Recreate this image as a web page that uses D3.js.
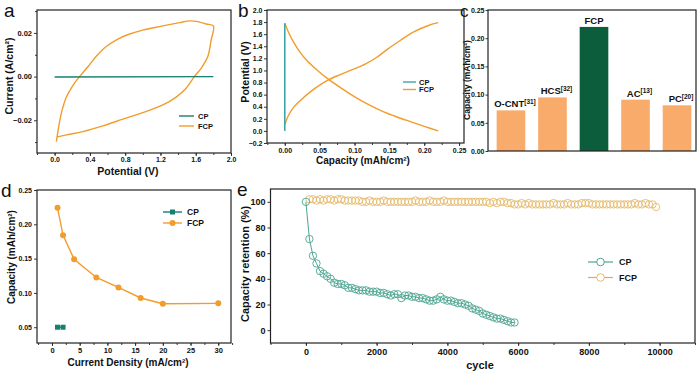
<!doctype html>
<html>
<head>
<meta charset="utf-8">
<title>FCP electrode performance</title>
<script src="https://d3js.org/d3.v7.min.js"></script>
<style>
  body { margin: 0; background: #fff; }
  svg text { font-family: "Liberation Sans", Arial, Helvetica, sans-serif; fill: #111; }
</style>
</head>
<body>
<div id="plot"></div>
<script>
// ---------- data ----------
// (a) CV curves
const cvCpPotential = [0.0, 1.8];
const cvCpCurrent   = [-0.0002, 0.0];
const cvFcpPotential = [0.02, 0.037, 0.075, 0.132, 0.208, 0.283, 0.377, 0.472, 0.585, 0.717, 0.85, 1.0, 1.227, 1.416, 1.529, 1.605, 1.718, 1.8,
                        1.775, 1.737, 1.661, 1.585, 1.491, 1.378, 1.227, 1.0, 0.774, 0.547, 0.32, 0.132, 0.02];
const cvFcpCurrent   = [-0.0298, -0.0252, -0.017, -0.0095, -0.004, 0.0, 0.0045, 0.0093, 0.0138, 0.0172, 0.0195, 0.0213, 0.0232, 0.0247, 0.0255, 0.0253, 0.0241, 0.0232,
                        0.0168, 0.0092, 0.0038, 0.0, -0.0053, -0.0094, -0.013, -0.0165, -0.0195, -0.0226, -0.0252, -0.0267, -0.0277];

// (b) charge / discharge
const gcdCpCapacity = [0.0, 0.0];
const gcdCpPotential = [0.0, 1.78];
const chargeCapacity  = [0.0, 0.005, 0.012, 0.022, 0.037, 0.049, 0.062, 0.077, 0.096, 0.116, 0.131, 0.146, 0.166, 0.185, 0.205, 0.22];
const chargePotential = [0.1, 0.25, 0.38, 0.5, 0.65, 0.75, 0.84, 0.92, 1.01, 1.11, 1.21, 1.34, 1.5, 1.64, 1.74, 1.79];
const dischargeCapacity  = [0.0, 0.005, 0.012, 0.022, 0.032, 0.047, 0.062, 0.082, 0.101, 0.121, 0.141, 0.161, 0.181, 0.2, 0.22];
const dischargePotential = [1.78, 1.64, 1.48, 1.3, 1.16, 1.0, 0.86, 0.7, 0.56, 0.43, 0.32, 0.23, 0.15, 0.075, 0.0];

// (c) comparison bars
const barNames = ["O-CNT", "HCS", "FCP", "AC", "PC"];
const barRefs  = ["[31]", "[32]", "", "[13]", "[20]"];
const barValues = [0.072, 0.095, 0.22, 0.091, 0.081];

// (d) rate capability
const fcpDensity  = [1, 2, 4, 8, 12, 16, 20, 30];
const fcpCapacity = [0.224, 0.184, 0.149, 0.1225, 0.108, 0.0926, 0.0843, 0.0848];
const cpDensity  = [1, 2];
const cpCapacity = [0.05, 0.05];

// (e) cycling, one point every 100 cycles
const cycleStep = 100;
const cpRetention = [100, 71, 58, 52, 46, 44, 42, 40, 37, 36, 36, 35, 33, 33, 32, 31, 31, 31, 30, 30,
                     30, 29, 29, 28, 27, 28, 28, 25, 27, 27, 26, 26, 25, 25, 24, 23, 23, 24, 26, 24,
                     23, 23, 22, 21, 21, 20, 19, 17, 16, 15, 13, 12, 11, 10, 9, 9, 8, 7, 6, 6];
const fcpRetention = [102, 102, 101, 102, 101, 102, 102, 101, 102, 102,
                      101, 101, 101, 101, 101, 100, 100, 101, 100, 100,
                      100, 101, 100, 100, 100, 100, 100, 100, 100, 100,
                      101, 100, 100, 100, 101, 100, 100, 100, 101, 100,
                      100, 100, 100, 100, 100, 100, 100, 100, 100, 100,
                      100, 99, 100, 99, 100, 100, 99, 99, 98, 98,
                      99, 98, 99, 98, 98, 98, 98, 98, 98, 99,
                      98, 98, 98, 99, 98, 98, 98, 99, 99, 99,
                      98, 98, 98, 98, 98, 98, 98, 98, 98, 98,
                      98, 98, 99, 98, 98, 99, 98, 98, 96];

// tick values
const aTicksX = [0, 0.4, 0.8, 1.2, 1.6, 2.0];
const aTicksY = [-0.02, 0, 0.02];
const bTicksX = [0, 0.05, 0.1, 0.15, 0.2, 0.25];
const bTicksY = [-0.2, 0, 0.2, 0.4, 0.6, 0.8, 1.0, 1.2, 1.4, 1.6, 1.8, 2.0];
const cTicksY = [0, 0.05, 0.1, 0.15, 0.2, 0.25];
const dTicksX = [0, 5, 10, 15, 20, 25, 30];
const dTicksY = [0.05, 0.1, 0.15, 0.2, 0.25];
const eTicksX = [0, 2000, 4000, 6000, 8000, 10000];
const eTicksY = [0, 20, 40, 60, 80, 100];

// colours
const orange = "#F39C2B";
const tealDark = "#167F70";
const tealLight = "#3BA7A6";
const barOrange = "#F9AB6C";
const barGreen = "#0C5D3B";
const eCp = "#4DA592";
const eFcp = "#E7BA6C";

// ---------- drawing ----------
const svg = d3.select("#plot").append("svg")
  .attr("width", 700).attr("height", 376)
  .style("background", "#fff");

function box(xs, ys) {
  const [x0, x1] = xs.range(), [y0, y1] = ys.range();
  svg.append("rect")
    .attr("x", Math.min(x0, x1)).attr("y", Math.min(y0, y1))
    .attr("width", Math.abs(x1 - x0)).attr("height", Math.abs(y1 - y0))
    .attr("fill", "none").attr("stroke", "#222").attr("stroke-width", 1.2);
}

function axis(gen, tx, ty, size) {
  const g = svg.append("g").attr("transform", `translate(${tx},${ty})`).call(gen);
  g.select(".domain").remove();
  g.selectAll(".tick line").attr("stroke", "#222").attr("stroke-width", 0.9);
  g.selectAll(".tick text")
    .style("font-size", size + "px").style("font-weight", "bold")
    .attr("fill", "#111");
  return g;
}

function title(x, y, txt, size, rotate) {
  const t = svg.append("text")
    .attr("text-anchor", "middle")
    .style("font-size", size + "px").style("font-weight", "bold")
    .text(txt);
  if (rotate) t.attr("transform", `translate(${x},${y}) rotate(-90)`);
  else t.attr("x", x).attr("y", y);
}

function letter(x, y, txt, size) {
  svg.append("text").attr("x", x).attr("y", y)
    .style("font-size", (size || 19) + "px").text(txt);
}

function pairs(xsArr, ysArr) { return xsArr.map((v, i) => [v, ysArr[i]]); }

// ---- (a) ----
{
  const x = d3.scaleLinear().domain([-0.2, 2.0]).range([37, 231]);
  const y = d3.scaleLinear().domain([-0.035, 0.0305]).range([153, 10]);
  const line = d3.line().x(d => x(d[0])).y(d => y(d[1])).curve(d3.curveCatmullRom.alpha(0.5));

  svg.append("path").datum(pairs(cvFcpPotential, cvFcpCurrent))
    .attr("d", line).attr("fill", "none").attr("stroke", orange).attr("stroke-width", 1.4);
  svg.append("path").datum(pairs(cvCpPotential, cvCpCurrent))
    .attr("d", d3.line().x(d => x(d[0])).y(d => y(d[1])))
    .attr("fill", "none").attr("stroke", tealDark).attr("stroke-width", 1.4);

  axis(d3.axisBottom(x).tickValues(d3.range(-0.2, 2.01, 0.2)).tickSize(2).tickFormat(""), 0, 153, 7);
  axis(d3.axisBottom(x).tickValues(aTicksX).tickSize(3).tickPadding(1).tickFormat(d3.format(".1f")), 0, 153, 7);
  axis(d3.axisLeft(y).tickValues([-0.03, -0.01, 0.01, 0.03]).tickSize(2).tickFormat(""), 37, 0, 7);
  axis(d3.axisLeft(y).tickValues(aTicksY).tickSize(3).tickPadding(2).tickFormat(d3.format(".2f")), 37, 0, 7.5);
  box(x, y);

  title(128, 175, "Potential (V)", 10.5);
  title(13, 76, "Current (A/cm²)", 10.5, true);
  letter(4, 17, "a");

  [["CP", tealDark, 116], ["FCP", orange, 126]].forEach(([n, c, yy]) => {
    svg.append("line").attr("x1", 179).attr("x2", 194).attr("y1", yy).attr("y2", yy)
      .attr("stroke", c).attr("stroke-width", 1.4);
    svg.append("text").attr("x", 198).attr("y", yy).attr("dy", "0.35em")
      .style("font-size", "7.5px").style("font-weight", "bold").text(n);
  });
}

// ---- (b) ----
{
  const x = d3.scaleLinear().domain([-0.0255, 0.257]).range([267, 464]);
  const y = d3.scaleLinear().domain([-0.2, 2.0]).range([143, 10]);
  const line = d3.line().x(d => x(d[0])).y(d => y(d[1])).curve(d3.curveCatmullRom.alpha(0.5));

  svg.append("path").datum(pairs(chargeCapacity, chargePotential))
    .attr("d", line).attr("fill", "none").attr("stroke", orange).attr("stroke-width", 1.4);
  svg.append("path").datum(pairs(dischargeCapacity, dischargePotential))
    .attr("d", line).attr("fill", "none").attr("stroke", orange).attr("stroke-width", 1.4);
  svg.append("path").datum(pairs(gcdCpCapacity, gcdCpPotential))
    .attr("d", d3.line().x(d => x(d[0])).y(d => y(d[1])))
    .attr("fill", "none").attr("stroke", tealLight).attr("stroke-width", 1.6);

  axis(d3.axisBottom(x).tickValues(d3.range(-0.025, 0.26, 0.025)).tickSize(2).tickFormat(""), 0, 143, 7);
  axis(d3.axisBottom(x).tickValues(bTicksX).tickSize(3).tickPadding(2).tickFormat(d3.format(".2f")), 0, 143, 7);
  axis(d3.axisLeft(y).tickValues(bTicksY).tickSize(3).tickPadding(1.5).tickFormat(d3.format(".1f")), 267, 0, 7);
  box(x, y);

  title(363, 164, "Capacity (mAh/cm²)", 10);
  title(249, 72, "Potential (V)", 10.5, true);
  letter(238, 17, "b");

  [["CP", tealLight, 82], ["FCP", orange, 89.5]].forEach(([n, c, yy]) => {
    svg.append("line").attr("x1", 403).attr("x2", 416).attr("y1", yy).attr("y2", yy)
      .attr("stroke", c).attr("stroke-width", 1.4);
    svg.append("text").attr("x", 419).attr("y", yy).attr("dy", "0.35em")
      .style("font-size", "7.5px").style("font-weight", "bold").text(n);
  });
}

// ---- (c) ----
{
  const x = d3.scaleBand().domain(barNames).range([490, 698]).paddingInner(0.31).paddingOuter(0.16);
  const y = d3.scaleLinear().domain([0, 0.25]).range([151, 10]);

  svg.selectAll("rect.bar").data(barNames).enter().append("rect")
    .attr("class", "bar")
    .attr("x", d => x(d)).attr("width", x.bandwidth())
    .attr("y", (d, i) => y(barValues[i])).attr("height", (d, i) => y(0) - y(barValues[i]))
    .attr("fill", d => d === "FCP" ? barGreen : barOrange);

  barNames.forEach((n, i) => {
    const t = svg.append("text")
      .attr("x", x(n) + x.bandwidth() / 2 + (barRefs[i] ? 4 : 0))
      .attr("y", y(barValues[i]) - 3)
      .attr("text-anchor", "middle")
      .style("font-size", "9.5px").style("font-weight", "bold");
    t.append("tspan").text(n);
    if (barRefs[i]) {
      t.append("tspan").attr("dy", -3.5).style("font-size", "6.5px").text(barRefs[i]);
    }
  });

  axis(d3.axisLeft(y).tickValues(cTicksY).tickSize(2.5).tickPadding(1).tickFormat(d3.format(".2f")), 488, 0, 7);
  svg.append("rect").attr("x", 488).attr("y", 10).attr("width", 208).attr("height", 141)
    .attr("fill", "none").attr("stroke", "#222").attr("stroke-width", 1.2);

  title(470, 80, "Capacity (mAh/cm²)", 8.5, true);
  letter(460, 17, "c", 17);
}

// ---- (d) ----
{
  const x = d3.scaleLinear().domain([-2.7, 32.3]).range([37, 231]);
  const y = d3.scaleLinear().domain([0.027, 0.25]).range([343, 190]);

  svg.append("path").datum(pairs(fcpDensity, fcpCapacity))
    .attr("d", d3.line().x(d => x(d[0])).y(d => y(d[1])))
    .attr("fill", "none").attr("stroke", orange).attr("stroke-width", 1.4);
  svg.selectAll("circle.fcpd").data(pairs(fcpDensity, fcpCapacity)).enter().append("circle")
    .attr("class", "fcpd")
    .attr("cx", d => x(d[0])).attr("cy", d => y(d[1])).attr("r", 3)
    .attr("fill", orange);
  svg.append("path").datum(pairs(cpDensity, cpCapacity))
    .attr("d", d3.line().x(d => x(d[0])).y(d => y(d[1])))
    .attr("fill", "none").attr("stroke", tealDark).attr("stroke-width", 1.4);
  svg.selectAll("rect.cpd").data(pairs(cpDensity, cpCapacity)).enter().append("rect")
    .attr("class", "cpd")
    .attr("x", d => x(d[0]) - 2.5).attr("y", d => y(d[1]) - 2.5)
    .attr("width", 5).attr("height", 5).attr("fill", tealDark);

  axis(d3.axisBottom(x).tickValues(d3.range(-2.5, 32.6, 2.5)).tickSize(2).tickFormat(""), 0, 343, 7.5);
  axis(d3.axisBottom(x).tickValues(dTicksX).tickSize(3).tickPadding(2), 0, 343, 7.5);
  axis(d3.axisLeft(y).tickValues(dTicksY).tickSize(3).tickPadding(2).tickFormat(d3.format(".2f")), 37, 0, 7);
  box(x, y);

  title(128, 366, "Current Density (mA/cm²)", 10);
  title(15, 257, "Capacity (mAh/cm²)", 10, true);
  letter(1, 197, "d");

  [["CP", tealDark, 212, "sq"], ["FCP", orange, 223, "ci"]].forEach(([n, c, yy, m]) => {
    svg.append("line").attr("x1", 163).attr("x2", 182).attr("y1", yy).attr("y2", yy)
      .attr("stroke", c).attr("stroke-width", 1.4);
    if (m === "sq") svg.append("rect").attr("x", 170).attr("y", yy - 2.5).attr("width", 5).attr("height", 5).attr("fill", c);
    else svg.append("circle").attr("cx", 172.5).attr("cy", yy).attr("r", 3).attr("fill", c);
    svg.append("text").attr("x", 187).attr("y", yy).attr("dy", "0.35em")
      .style("font-size", "8.5px").style("font-weight", "bold").text(n);
  });
}

// ---- (e) ----
{
  const x = d3.scaleLinear().domain([-1000, 11000]).range([270.5, 695]);
  const y = d3.scaleLinear().domain([-10, 110]).range([343, 189]);

  const cpPts = cpRetention.map((v, i) => [i * cycleStep, v]);
  const fcpPts = fcpRetention.map((v, i) => [(i + 1) * cycleStep, v]);

  svg.selectAll("circle.fcpe").data(fcpPts).enter().append("circle")
    .attr("class", "fcpe")
    .attr("cx", d => x(d[0])).attr("cy", d => y(d[1])).attr("r", 3.7)
    .attr("fill", "none").attr("stroke", eFcp).attr("stroke-width", 0.9);
  svg.append("path").datum(cpPts)
    .attr("d", d3.line().x(d => x(d[0])).y(d => y(d[1])))
    .attr("fill", "none").attr("stroke", eCp).attr("stroke-width", 1);
  svg.selectAll("circle.cpe").data(cpPts).enter().append("circle")
    .attr("class", "cpe")
    .attr("cx", d => x(d[0])).attr("cy", d => y(d[1])).attr("r", 3.7)
    .attr("fill", "none").attr("stroke", eCp).attr("stroke-width", 0.9);

  axis(d3.axisBottom(x).tickValues(d3.range(-1000, 11001, 1000)).tickSize(2).tickFormat(""), 0, 343, 9);
  axis(d3.axisBottom(x).tickValues(eTicksX).tickSize(3).tickPadding(3).tickFormat(d3.format("d")), 0, 343, 9);
  axis(d3.axisLeft(y).tickValues(eTicksY).tickSize(3).tickPadding(2), 270.5, 0, 9);
  box(x, y);

  title(480, 369, "cycle", 11);
  title(249, 264, "Capacity retention (%)", 11, true);
  letter(237, 196, "e");

  [["CP", eCp, eCp, 262], ["FCP", "#EE9C7E", eFcp, 277.5]].forEach(([n, lc, cc, yy]) => {
    svg.append("line").attr("x1", 588).attr("x2", 613).attr("y1", yy).attr("y2", yy)
      .attr("stroke", lc).attr("stroke-width", 1.2);
    svg.append("circle").attr("cx", 600.5).attr("cy", yy).attr("r", 3.8)
      .attr("fill", "#fff").attr("stroke", cc).attr("stroke-width", 1);
    svg.append("text").attr("x", 619).attr("y", yy).attr("dy", "0.35em")
      .style("font-size", "9px").style("font-weight", "bold").text(n);
  });
}
</script>
</body>
</html>
